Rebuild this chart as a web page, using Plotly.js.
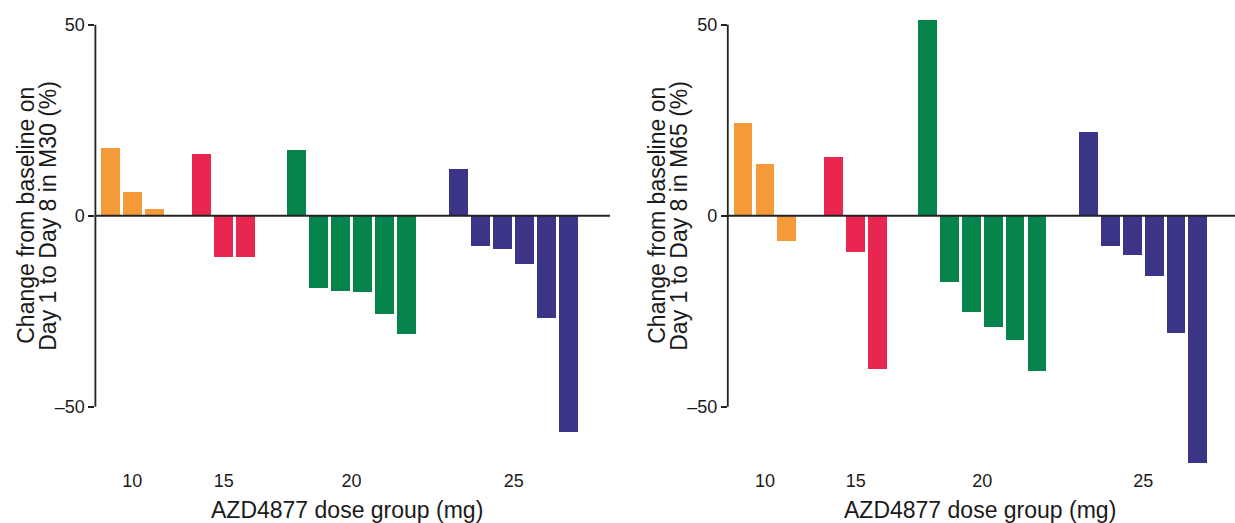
<!DOCTYPE html>
<html>
<head>
<meta charset="utf-8">
<script src="https://cdn.plot.ly/plotly-3.0.1.min.js"></script>
<style>html,body{margin:0;padding:0;background:#fff;}#chart{width:1235px;height:523px;}</style>
</head>
<body>
<div id="chart"></div>
<script>
// ---- data ----
const doseGroups = ['10', '15', '20', '25'];
const groupColors = ['#F49A38', '#E8264F', '#06844C', '#3A3587'];

const m30_10mg = [17.7, 6.3, 1.7];
const m30_15mg = [16.2, -10.8, -10.8];
const m30_20mg = [17.3, -18.8, -19.8, -19.9, -25.7, -30.9];
const m30_25mg = [12.2, -7.8, -8.7, -12.7, -26.7, -56.6];

const m65_10mg = [24.3, 13.5, -6.6];
const m65_15mg = [15.3, -9.4, -40.2];
const m65_20mg = [51.3, -17.4, -25.3, -29.0, -32.4, -40.6];
const m65_25mg = [22.0, -8.0, -10.3, -15.8, -30.8, -64.8];

const yTitleLeft = ['Change from baseline on', 'Day 1 to Day 8 in M30 (%)'];
const yTitleRight = ['Change from baseline on', 'Day 1 to Day 8 in M65 (%)'];
const xTitle = 'AZD4877 dose group (mg)';

// ---- layout helpers ----
const extraGap = [1.15, 1.29, 1.36];
const barWidth = 0.86;
const FONT = '"Liberation Sans", Arial, Helvetica, sans-serif';
const TXT = '#1a1a1a';

function buildTraces(groupsVals, xa, ya) {
  const traces = [];
  const centers = [];
  let pos = 0;
  groupsVals.forEach((vals, g) => {
    if (g > 0) pos += extraGap[g - 1];
    const xs = [];
    vals.forEach(() => { xs.push(pos); pos += 1; });
    centers.push((xs[0] + xs[xs.length - 1]) / 2);
    traces.push({
      type: 'bar', x: xs, y: vals, width: barWidth,
      marker: {color: groupColors[g], line: {width: 0}},
      xaxis: xa, yaxis: ya, showlegend: false, hoverinfo: 'skip'
    });
  });
  return {traces, centers};
}

const left = buildTraces([m30_10mg, m30_15mg, m30_20mg, m30_25mg], 'x', 'y');
const right = buildTraces([m65_10mg, m65_15mg, m65_20mg, m65_25mg], 'x2', 'y2');

const W = 1235;
const yRange = [-66, 52];
function yAxis(anchor) {
  return {
    anchor: anchor, domain: [0, 1], range: yRange,
    tickvals: [-50, 0, 50], ticktext: ['\u201350', '0', '50'],
    ticks: 'outside', ticklen: 6, tickwidth: 1.8, tickcolor: '#222',
    showline: false, showgrid: false, zeroline: false,
    tickfont: {family: FONT, size: 18, color: TXT}, fixedrange: true
  };
}
function xAxis(anchor, domain, range, centers) {
  return {
    anchor: anchor, domain: domain, range: range,
    tickvals: centers, ticktext: doseGroups, ticks: '',
    showline: false, showgrid: false, zeroline: false,
    tickfont: {family: FONT, size: 18, color: TXT}, fixedrange: true
  };
}

const TF = {family: FONT, size: 23, color: TXT};
const layout = {
  width: W, height: 523,
  margin: {l: 0, r: 0, t: 17, b: 55},
  paper_bgcolor: '#fff', plot_bgcolor: '#fff',
  bargap: 0,
  xaxis: xAxis('y', [95.4 / W, 610 / W], [-0.67, 22.66], left.centers),
  yaxis: yAxis('x'),
  xaxis2: xAxis('y2', [727.8 / W, 1], [-0.70, 22.5], right.centers),
  yaxis2: yAxis('x2'),
  shapes: [
    {type: 'line', xref: 'x domain', yref: 'y', x0: 0, x1: 0, y0: -50, y1: 50, line: {color: '#222', width: 1.8}},
    {type: 'line', xref: 'x domain', yref: 'y', x0: 0, x1: 1, y0: 0, y1: 0, line: {color: '#222', width: 2.2}, layer: 'above'},
    {type: 'line', xref: 'x2 domain', yref: 'y2', x0: 0, x1: 0, y0: -50, y1: 50, line: {color: '#222', width: 1.8}},
    {type: 'line', xref: 'x2 domain', yref: 'y2', x0: 0, x1: 1, y0: 0, y1: 0, line: {color: '#222', width: 2.2}, layer: 'above'}
  ],
  annotations: [
    {text: yTitleLeft[0], xref: 'paper', yref: 'y', x: 26 / W, y: 0, textangle: -90, showarrow: false, xanchor: 'center', yanchor: 'middle', font: TF},
    {text: yTitleLeft[1], xref: 'paper', yref: 'y', x: 48 / W, y: 0, textangle: -90, showarrow: false, xanchor: 'center', yanchor: 'middle', font: TF},
    {text: yTitleRight[0], xref: 'paper', yref: 'y2', x: 657 / W, y: 0, textangle: -90, showarrow: false, xanchor: 'center', yanchor: 'middle', font: TF},
    {text: yTitleRight[1], xref: 'paper', yref: 'y2', x: 679 / W, y: 0, textangle: -90, showarrow: false, xanchor: 'center', yanchor: 'middle', font: TF},
    {text: xTitle, xref: 'paper', yref: 'paper', x: 347 / W, y: (468 - 510) / 451, showarrow: false, xanchor: 'center', yanchor: 'middle', font: TF},
    {text: xTitle, xref: 'paper', yref: 'paper', x: 980 / W, y: (468 - 510) / 451, showarrow: false, xanchor: 'center', yanchor: 'middle', font: TF}
  ]
};

Plotly.newPlot('chart', left.traces.concat(right.traces), layout, {displayModeBar: false, staticPlot: true});
</script>
</body>
</html>
